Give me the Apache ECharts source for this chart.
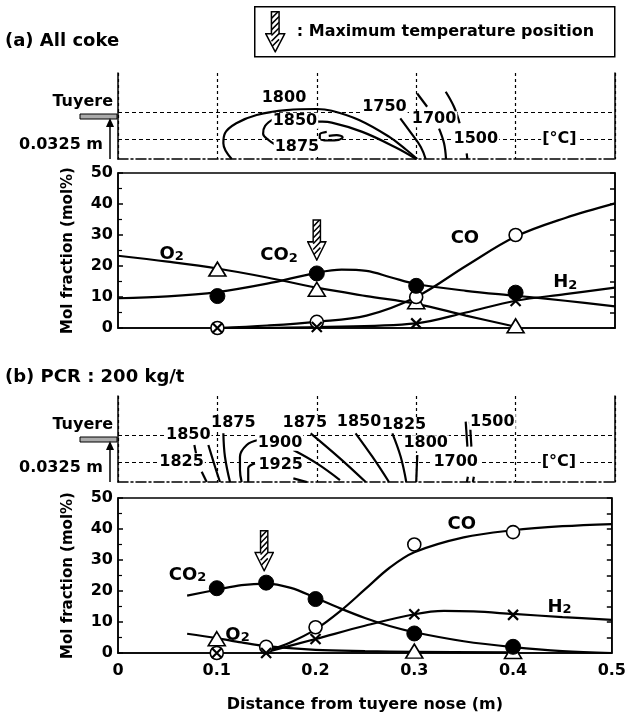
<!DOCTYPE html>
<html style="height: 100%">
<head>
    <meta charset="utf-8">
</head>
<body style="height: 100%; margin: 0; background: #fff">
    <div id="container" style="width: 629px; height: 716px"></div>
    <script type="text/javascript" src="https://cdn.jsdelivr.net/npm/echarts@6.0.0/dist/echarts.min.js"></script>
    <script type="text/javascript">
        // ---- data ----
        // (a) All coke : measured points [x (m), mol%]
        var o2PtsA  = [[0.1, 19], [0.2, 12.5], [0.3, 8.5], [0.4, 0.7]];
        var co2PtsA = [[0.1, 10.3], [0.2, 17.6], [0.3, 13.6], [0.4, 11.4]];
        var coPtsA  = [[0.1, 0], [0.2, 2], [0.3, 10], [0.4, 30]];
        var h2PtsA  = [[0.1, 0], [0.2, 0.3], [0.3, 1.5], [0.4, 8.7]];
        // (a) fitted curves
        var o2CurveA  = [[0, 23.3], [0.05, 21.4], [0.1, 19.2], [0.15, 16.3], [0.2, 13], [0.25, 10.3], [0.3, 7.8], [0.35, 4], [0.4, 0.4]];
        var co2CurveA = [[0, 9.6], [0.05, 10.2], [0.1, 11.6], [0.15, 14.3], [0.2, 17.8], [0.225, 18.8], [0.25, 18.4], [0.275, 16.3], [0.3, 14.2], [0.35, 12], [0.4, 10.4], [0.45, 8.8], [0.5, 7]];
        var coCurveA  = [[0.1, 0], [0.15, 0.8], [0.2, 2], [0.25, 4], [0.3, 10], [0.35, 20], [0.4, 29.5], [0.45, 35.5], [0.5, 40.2]];
        var h2CurveA  = [[0.1, 0], [0.2, 0.3], [0.3, 1.5], [0.35, 5], [0.4, 8.8], [0.45, 10.9], [0.5, 13]];

        // (b) PCR 200 kg/t : measured points
        var o2PtsB  = [[0.1, 4.6], [0.3, 0.6], [0.4, 0.5]];
        var co2PtsB = [[0.1, 20.9], [0.15, 22.7], [0.2, 17.4], [0.3, 6.3], [0.4, 2]];
        var coPtsB  = [[0.1, 0], [0.15, 2], [0.2, 8.3], [0.3, 35], [0.4, 39]];
        var h2PtsB  = [[0.1, 0], [0.15, 0], [0.2, 4.5], [0.3, 12.5], [0.4, 12.3]];
        // (b) fitted curves
        var o2CurveB  = [[0.07, 6.2], [0.1, 4.8], [0.125, 3.4], [0.15, 2.2], [0.2, 1], [0.25, 0.6], [0.3, 0.4], [0.4, 0.2]];
        var co2CurveB = [[0.07, 18.5], [0.1, 20.4], [0.125, 21.9], [0.15, 22.4], [0.175, 21], [0.2, 17.8], [0.225, 14.4], [0.25, 11.3], [0.275, 8.7], [0.3, 6.7], [0.35, 3.8], [0.4, 1.9], [0.45, 0.6], [0.5, 0]];
        var coCurveB  = [[0.15, 0.6], [0.175, 3.5], [0.2, 7.6], [0.225, 13.5], [0.25, 20.5], [0.275, 27.5], [0.3, 32.5], [0.35, 37.3], [0.4, 39.6], [0.45, 40.9], [0.5, 41.6]];
        var h2CurveB  = [[0.15, 0.3], [0.2, 4.5], [0.25, 8.8], [0.3, 12.5], [0.33, 13.6], [0.36, 13.4], [0.4, 12.6], [0.45, 11.6], [0.5, 10.7]];

        // maximum temperature position arrows [x, mol%]
        var maxTempA = [0.2, 28.4];
        var maxTempB = [0.148, 33];

        // species labels [text, subscript, x, mol%]
        var speciesA = [['O', '2', 0.054, 23.9], ['CO', '2', 0.162, 23.3], ['CO', '', 0.349, 28.9], ['H', '2', 0.45, 14.6]];
        var speciesB = [['CO', '2', 0.0705, 25.2], ['O', '2', 0.121, 5.8], ['CO', '', 0.348, 41.6], ['H', '2', 0.447, 14.7]];

        // isotherms, height above bottom in m (tuyere line at 0.065)
        var isoA = [
            [[0.1144, 0], [0.106, 0.0237], [0.1076, 0.0388], [0.119, 0.054], [0.1395, 0.0665], [0.1697, 0.074], [0.2, 0.0756], [0.215, 0.073], [0.2425, 0.059], [0.2726, 0.0338], [0.29, 0.014], [0.301, 0]],
            [[0.156, 0.058], [0.18, 0.06], [0.2, 0.057], [0.215, 0.055], [0.2458, 0.041], [0.279, 0.0177], [0.3, 0]],
            [[0.157, 0.061], [0.148, 0.05], [0.146, 0.038], [0.152, 0.028], [0.158, 0.022]],
            [[0.21, 0.041], [0.203, 0.037], [0.203, 0.031], [0.212, 0.028], [0.222, 0.029], [0.226, 0.033], [0.22, 0.036], [0.212, 0.035]],
            [[0.284, 0.0615], [0.294, 0.041], [0.3045, 0.0186], [0.3095, 0]],
            [[0.301, 0.099], [0.311, 0.079]],
            [[0.323, 0.046], [0.328, 0.0237], [0.33, 0]],
            [[0.3297, 0.1017], [0.338, 0.079], [0.3437, 0.054]],
            [[0.3508, 0.0086], [0.3514, 0]]
        ];
        var isoB = [
            [[0.0768, 0.056], [0.0785, 0.0433]],
            [[0.0842, 0.0156], [0.0892, 0]],
            [[0.0909, 0.056], [0.0976, 0.0231], [0.1026, 0]],
            [[0.106, 0.0736], [0.1076, 0.0382], [0.1127, 0]],
            [[0.141, 0.0635], [0.1295, 0.056], [0.1227, 0.0382], [0.1227, 0.018], [0.1244, 0]],
            [[0.1378, 0.0282], [0.131, 0.0207], [0.131, 0]],
            [[0.1764, 0.0055], [0.19, 0]],
            [[0.1764, 0.0484], [0.2, 0.0282], [0.2233, 0.003]],
            [[0.1938, 0.0736], [0.2233, 0.0358], [0.2492, 0]],
            [[0.239, 0.0736], [0.2559, 0.0382], [0.2726, 0]],
            [[0.276, 0.0736], [0.2844, 0.0382], [0.29, 0]],
            [[0.3011, 0.0408], [0.3, 0]],
            [[0.3498, 0.0912], [0.3515, 0.0534]],
            [[0.354, 0.0912], [0.3555, 0.0534]],
            [[0.352, 0.008], [0.351, 0]],
            [[0.358, 0.008], [0.357, 0]]
        ];
        var isoLabelsA = [['1800', 0.167, 0.093], ['1850', 0.178, 0.058], ['1875', 0.18, 0.018], ['1750', 0.268, 0.079],
            ['1700', 0.318, 0.06], ['1500', 0.36, 0.03], ['[°C]', 0.444, 0.03]];
        var isoLabelsB = [['1850', 0.0707, 0.071], ['1825', 0.064, 0.0307], ['1875', 0.116, 0.0897], ['1900', 0.163, 0.0594],
            ['1925', 0.1637, 0.0257], ['1875', 0.188, 0.0897], ['1850', 0.2425, 0.0912], ['1825', 0.2877, 0.0862],
            ['1800', 0.3095, 0.0585], ['1700', 0.3397, 0.0307], ['1500', 0.3766, 0.0912], ['[°C]', 0.4436, 0.0307]];

        // ---- layout ----
        var FONT = 'DejaVu Sans';
        var L = 118, R = 14;
        var panels = [{top: 73, h: 86}, {top: 173, h: 155}, {top: 396, h: 86}, {top: 498, h: 155}];

        var arrowSvg = "<svg xmlns='http://www.w3.org/2000/svg' width='22' height='44' viewBox='0 0 22 44'>" +
            "<defs><clipPath id='c'><path d='M7,1H15V24H21L11,43L1,24H7Z'/></clipPath></defs>" +
            "<path d='M7,1H15V24H21L11,43L1,24H7Z' fill='#fff' stroke='#000' stroke-width='1.6'/>" +
            "<g clip-path='url(#c)'><path d='M7,8L15,0M7,14L15,6M7,20L15,12M7,26L15,18M7,32L15,24M7,38L15,30' stroke='#000' stroke-width='1.6'/></g></svg>";
        var arrowUri = 'data:image/svg+xml;charset=utf-8,' + encodeURIComponent(arrowSvg);

        var dom = document.getElementById('container');
        var myChart = echarts.init(dom);

        var grid = panels.map(function (p, i) {
            return {left: L, right: R, top: p.top, height: p.h, show: i % 2 === 1, borderColor: '#000', borderWidth: 1.5};
        });

        var lblStyle = {color: '#000', fontFamily: FONT, fontWeight: 'bold', fontSize: 16};

        var xAxis = [], yAxis = [];
        panels.forEach(function (p, i) {
            if (i % 2 === 0) {
                xAxis.push({gridIndex: i, type: 'value', min: 0, max: 0.5, interval: 0.1,
                    axisLabel: {show: false}, axisTick: {show: false},
                    axisLine: {show: true, onZero: false, lineStyle: {color: '#000', width: 1.5, type: [10, 3, 2, 3]}},
                    splitLine: {show: true, lineStyle: {color: '#000', width: 1.2, type: [3, 3]}}});
            } else {
                xAxis.push({gridIndex: i, type: 'value', min: 0, max: 0.5, interval: 0.1,
                    axisLine: {show: true, onZero: false, lineStyle: {color: '#000', width: 1.5}},
                    axisTick: {show: false}, splitLine: {show: false},
                    axisLabel: Object.assign({show: i === 3, margin: 10}, lblStyle),
                    name: i === 3 ? 'Distance from tuyere nose (m)' : '', nameLocation: 'middle', nameGap: 44,
                    nameTextStyle: {color: '#000', fontFamily: FONT, fontWeight: 'bold', fontSize: 16}});
            }
        });
        panels.forEach(function (p, i) {
            if (i % 2 === 0) {
                yAxis.push({gridIndex: i, type: 'value', min: 0, max: 0.13, interval: 0.0325,
                    axisLine: {show: true, lineStyle: {color: '#000', width: 1.5}},
                    axisTick: {show: false}, splitLine: {show: false},
                    axisLabel: {margin: 5, formatter: function (v) {
                        if (Math.abs(v - 0.065) < 1e-6) return '{t|Tuyere}';
                        if (Math.abs(v - 0.0325) < 1e-6) return '{m|0.0325 m}';
                        return '';
                    }, rich: {
                        t: {fontFamily: FONT, fontWeight: 'bold', fontSize: 16, color: '#000', padding: [0, 0, 28, 0]},
                        m: {fontFamily: FONT, fontWeight: 'bold', fontSize: 16, color: '#000', padding: [14, 10, 0, 0]}
                    }}});
            } else {
                yAxis.push({gridIndex: i, type: 'value', min: 0, max: 50, interval: 10,
                    axisLine: {show: true, lineStyle: {color: '#000', width: 1.5}},
                    axisTick: {show: true, inside: true, length: 5, lineStyle: {color: '#000', width: 1.5}},
                    minorTick: {show: true, splitNumber: 2, length: 4, lineStyle: {color: '#000', width: 1.2}},
                    splitLine: {show: false},
                    axisLabel: Object.assign({margin: 5}, lblStyle),
                    name: 'Mol fraction (mol%)', nameLocation: 'middle', nameRotate: 90, nameGap: 42,
                    nameTextStyle: {color: '#000', fontFamily: FONT, fontWeight: 'bold', fontSize: 15}});
            }
        });
        // right-hand axes
        panels.forEach(function (p, i) {
            var line = i % 2 === 1;
            yAxis.push({gridIndex: i, type: 'value', position: 'right', min: 0, max: line ? 50 : 0.13, interval: line ? 5 : 0.0325,
                axisLine: {show: true, lineStyle: {color: '#000', width: 1.5}},
                axisTick: {show: line, inside: true, length: 5, lineStyle: {color: '#000', width: 1.5}},
                axisLabel: {show: false}, splitLine: {show: false}});
        });

        var series = [];

        function curve(g, data) {
            series.push({type: 'line', xAxisIndex: g, yAxisIndex: g, data: data, smooth: 0.35, symbol: 'none',
                lineStyle: {color: '#000', width: 2.2}, z: 2, silent: true});
        }
        function marks(g, data, symbol, size, fill, bw) {
            series.push({type: 'scatter', xAxisIndex: g, yAxisIndex: g, data: data, symbol: symbol, symbolSize: size,
                itemStyle: {color: fill, borderColor: '#000', borderWidth: bw, opacity: 1}, z: 3, silent: true});
        }
        var crossPath = 'path://M0,0L10,10M10,0L0,10';

        function lineChart(g, c, pts, maxT, species) {
            curve(g, c.o2); curve(g, c.co2); curve(g, c.co); curve(g, c.h2);
            marks(g, pts.o2, 'triangle', [17, 14], '#fff', 1.6);
            marks(g, pts.co, 'circle', 13, '#fff', 1.6);
            marks(g, pts.co2, 'circle', 15, '#000', 1);
            marks(g, pts.h2, crossPath, 10, '#000', 2.2);
            series.push({type: 'scatter', xAxisIndex: g, yAxisIndex: g, data: [maxT], symbol: 'image://' + arrowUri,
                symbolSize: [20, 42], itemStyle: {opacity: 1}, z: 4, silent: true});
            series.push({type: 'scatter', xAxisIndex: g, yAxisIndex: g, symbolSize: 0, itemStyle: {color: '#000', opacity: 1}, z: 5, silent: true,
                data: species.map(function (s) { return {value: [s[2], s[3]], main: s[0], sub: s[1]}; }),
                label: {show: true, position: 'inside', formatter: function (p) {
                    return '{m|' + p.data.main + '}' + (p.data.sub ? '{s|' + p.data.sub + '}' : '');
                }, rich: {
                    m: {fontFamily: FONT, fontWeight: 'bold', fontSize: 18, color: '#000', verticalAlign: 'bottom'},
                    s: {fontFamily: FONT, fontWeight: 'bold', fontSize: 13, color: '#000', verticalAlign: 'bottom'}
                }}});
        }

        function contour(g, iso, labels) {
            iso.forEach(function (d, k) {
                var s = {type: 'line', xAxisIndex: g, yAxisIndex: g, data: d, smooth: 0.4, symbol: 'none',
                    lineStyle: {color: '#000', width: 2.2}, z: 2, silent: true};
                if (k === 0) {
                    s.markLine = {silent: true, symbol: 'none', label: {show: false}, animation: false,
                        lineStyle: {color: '#000', width: 1.2, type: [4, 3]},
                        data: [{yAxis: 0.0325}, {yAxis: 0.065}]};
                }
                series.push(s);
            });
            series.push({type: 'scatter', xAxisIndex: g, yAxisIndex: g, symbolSize: 0, itemStyle: {color: '#000', opacity: 1}, z: 5, silent: true,
                data: labels.map(function (l) { return {value: [l[1], l[2]], name: l[0]}; }),
                label: {show: true, position: 'inside', formatter: '{b}', color: '#000', fontFamily: FONT, fontWeight: 'bold',
                    fontSize: 16, backgroundColor: '#fff', padding: [0, 1]}});
        }

        contour(0, isoA, isoLabelsA);
        lineChart(1, {o2: o2CurveA, co2: co2CurveA, co: coCurveA, h2: h2CurveA},
            {o2: o2PtsA, co2: co2PtsA, co: coPtsA, h2: h2PtsA}, maxTempA, speciesA);
        contour(2, isoB, isoLabelsB);
        lineChart(3, {o2: o2CurveB, co2: co2CurveB, co: coCurveB, h2: h2CurveB},
            {o2: o2PtsB, co2: co2PtsB, co: coPtsB, h2: h2PtsB}, maxTempB, speciesB);

        // decorations: titles, legend box, tuyere nose marks
        var graphic = [
            {type: 'text', left: 5, top: 32, style: {text: '(a) All coke', font: 'bold 18px "DejaVu Sans"', fill: '#000'}},
            {type: 'text', left: 5, top: 368, style: {text: '(b) PCR : 200 kg/t', font: 'bold 18px "DejaVu Sans"', fill: '#000'}},
            {type: 'group', left: 254, top: 6, children: [
                {type: 'rect', shape: {x: 0, y: 0, width: 360, height: 50}, style: {fill: '#fff', stroke: '#000', lineWidth: 1.5}},
                {type: 'image', style: {image: arrowUri, x: 10, y: 4, width: 21, height: 42}},
                {type: 'text', style: {text: ': Maximum temperature position', x: 42, y: 25, verticalAlign: 'middle',
                    font: 'bold 16px "DejaVu Sans"', fill: '#000'}}
            ]}
        ];
        [panels[0], panels[2]].forEach(function (p) {
            var ly = p.top + p.h / 2, by = p.top + p.h;
            graphic.push({type: 'rect', shape: {x: L - 38, y: ly - 2, width: 37, height: 5}, style: {fill: '#aaa', stroke: '#000', lineWidth: 1}});
            graphic.push({type: 'line', shape: {x1: L - 8, y1: by, x2: L - 8, y2: ly + 8}, style: {stroke: '#000', lineWidth: 1.5}});
            graphic.push({type: 'polygon', shape: {points: [[L - 12, ly + 11], [L - 4, ly + 11], [L - 8, ly + 2]]}, style: {fill: '#000'}});
        });

        var option = {
            animation: false,
            backgroundColor: '#fff',
            grid: grid,
            xAxis: xAxis,
            yAxis: yAxis,
            series: series,
            graphic: graphic
        };
        myChart.setOption(option, true);
    </script>
</body>
</html>
